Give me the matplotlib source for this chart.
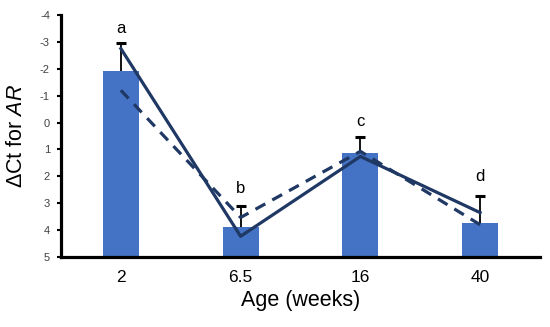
import numpy as np
import matplotlib
matplotlib.use('Agg')
import matplotlib.pyplot as plt

plt.rcParams['font.family'] = ['Liberation Sans', 'DejaVu Sans']
plt.rcParams['mathtext.fontset'] = 'custom'
plt.rcParams['mathtext.rm'] = 'Liberation Sans'
plt.rcParams['mathtext.it'] = 'Liberation Sans:italic'

# data (y axis is inverted)
ages = ['2', '6.5', '16', '40']
bar_vals = [-1.9, 3.9, 1.15, 3.72]
err_vals = [1.07, 0.78, 0.63, 0.97]
solid_vals = [-2.75, 4.23, 1.26, 3.35]
dashed_vals = [-1.2, 3.53, 1.07, 3.8]
letters = ['a', 'b', 'c', 'd']
letter_y = [-3.5, 2.45, -0.05, 2.0]

bar_col = '#4472C4'
line_col = '#1F3864'

fig = plt.figure(figsize=(5.5, 3.27), dpi=100)
ax = fig.add_axes([61/550, 1-257/327, (540-61)/550, (257-15)/327])

x = np.arange(len(ages))
bottom = 5
ax.bar(x, np.array(bar_vals)-bottom, bottom=bottom, width=0.3, color=bar_col, zorder=2)

# error bars go up only (toward more negative values)
tops = np.array(bar_vals) - np.array(err_vals)
ax.vlines(x, bar_vals, tops, color='black', lw=1.3, zorder=3)
ax.plot(x, tops, ls='', marker='_', ms=7, mew=2.2, color='black', zorder=3)

ax.plot(x, solid_vals, color=line_col, lw=2.3, zorder=4)
ax.plot(x, dashed_vals, color=line_col, lw=2.3, dashes=(3.5, 2.5), zorder=4)

for xi, lab, ly in zip(x, letters, letter_y):
    ax.text(xi, ly, lab, ha='center', va='center', fontsize=12, color='black')

ax.set_xlim(-0.5, 3.5)
ax.set_ylim(5, -4)
ax.set_yticks(range(-4, 6))
ax.set_yticklabels([str(v) for v in range(-4, 6)], fontsize=8, color='#404040')
ax.set_xticks(x)
ax.set_xticklabels(ages, fontsize=12.5)
ax.tick_params(axis='x', length=0, pad=9)
ax.tick_params(axis='y', length=3, width=1.5, direction='out', pad=5)

for s in ['top', 'right']:
    ax.spines[s].set_visible(False)
for s in ['left', 'bottom']:
    ax.spines[s].set_linewidth(2.3)

ax.set_xlabel('Age (weeks)', fontsize=15.5, labelpad=4)
ax.set_ylabel(r'ΔCt for $\mathit{AR}$', fontsize=15.5, labelpad=9)

fig.savefig('out.png', dpi=100)
